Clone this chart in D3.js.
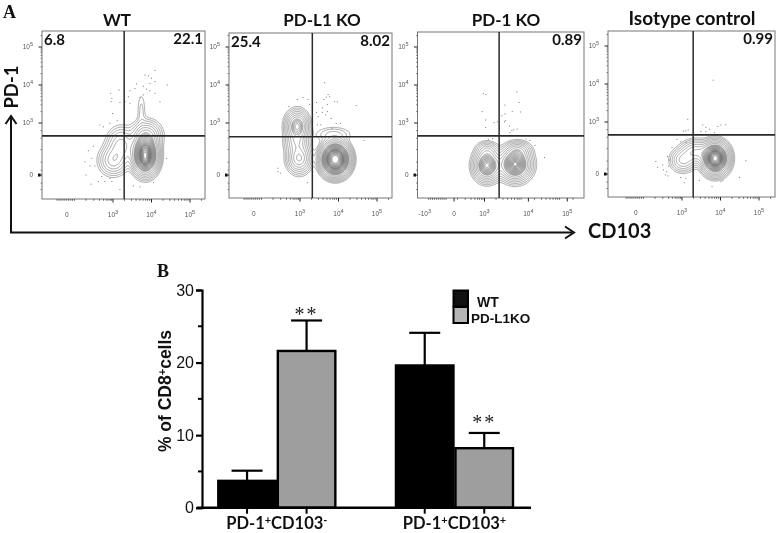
<!DOCTYPE html>
<html><head><meta charset="utf-8">
<script src="https://cdn.jsdelivr.net/npm/d3@7"></script>
<style>html,body{margin:0;background:#fff}svg{display:block;filter:blur(.4px)}</style>
</head><body><div id="c"></div>
<script>
// ---------- Panel A data (axis units: decades, 3 = 10^3) ----------
const panelNames = ["WT","PD-L1 KO","PD-1 KO","Isotype control"];
const q1Values = ["6.8","25.4","",""];
const q2Values = ["22.1","8.02","0.89","0.99"];
const yTickDecades = [5,4,3,1.63];
const yTickLabels = ["5","4","3","0"];
const xTickDecadesStd = [1.8,3,4,5];
const xTickLabelsStd = ["0","3","4","5"];
const xTickDecadesKO = [1.45,2.21,3,4.14,5.15];
const xTickLabelsKO = ["-3","0","3","4","5"];
// gate positions (decades) x, y
const gatesWT=[3.29,2.66], gatesL1=[3.32,2.64], gatesKO=[3.38,2.66], gatesIso=[3.29,2.66];
// density peaks: x, y, sx, sy, weight, sharpness
const peaksWT=[[3.83,2.16,.2,.3,1,1.3],[3.83,2.14,.07,.16,.35,1],[3.86,2.68,.2,.2,.3,1],[3.0,2.02,.19,.2,.24,1],[3.2,2.42,.19,.24,.24,1],[3.73,3.34,.07,.3,.04,1]];
const peaksL1=[[3.91,2.05,.25,.29,1,1.6],[3.91,2.05,.12,.14,.4,1],[2.92,2.92,.15,.2,.6,1],[2.97,2.08,.16,.2,.4,1],[2.9,2.5,.16,.16,.2,1],[3.86,2.7,.27,.12,.07,1]];
const peaksKO=[[3.79,1.92,.2,.21,1,1],[3.06,1.89,.17,.2,.85,1],[3.87,2.29,.17,.12,.2,1],[3.06,2.29,.15,.12,.15,1]];
const peaksIso=[[3.86,2.05,.21,.25,1,1.3],[3.86,2.05,.1,.12,.35,1],[3.02,2.0,.17,.16,.22,1],[3.35,2.22,.2,.16,.28,1]];
// outlier dots
const dotsWT=[[4.09,4.38],[3.83,4.26],[3.92,4.24],[4,4.18],[4.09,4.09],[3.96,4.04],[4.41,4],[3.79,3.97],[3.61,4.03],[3.57,3.91],[3.87,3.89],[3.96,3.85],[4.09,3.78],[3.79,3.74],[3.7,3.68],[3.44,3.85],[3.4,3.69],[2.94,3.78],[2.97,3.65],[2.95,3.56],[3.18,3.54],[3.16,3.87],[3.31,3.56],[3.44,3.52],[4.22,3.56],[2.99,3.25],[3.11,3.06],[2.66,2.95],[2.75,2.9],[2.92,2.99],[2.36,2.27],[2.49,2.39],[2.27,1.98],[2.45,2.07],[2.4,1.87],[2.53,1.87],[2.3,1.63],[2.43,1.39],[2.71,1.59],[2.62,1.46],[2.97,1.46],[3.18,1.25],[3.53,1.34],[3.7,1.32],[4.05,1.43],[4.39,2.07],[2.92,1.54],[2.79,1.46]];
const dotsL1=[[3.64,4.06],[3.73,3.75],[3.68,3.68],[3.77,3.69],[3.62,3.62],[3.43,3.54],[3.9,3.56],[3.97,3.56],[4.46,3.46],[3.71,3.49],[3.58,3.4],[3.58,3.28],[3.71,3.3],[3.67,3.21],[3.43,3.28],[3.47,3.17],[3.45,2.95],[3.54,2.95],[3.81,3.12],[3.94,2.99],[4.05,2.99],[3.83,2.86],[2.93,3.62],[3.08,3.67],[3.21,3.62],[2.71,3.43],[3.25,3.49],[4.66,2.54],[2.43,1.81],[2.5,1.68],[3.19,1.43],[2.43,1.72]];
const dotsKO=[[2.97,3.77],[3.04,3.75],[3.84,3.82],[3.9,3.54],[3.53,3.47],[2.94,3.3],[3.72,3.3],[3.94,3.29],[3.45,3.19],[3.53,3.24],[3.03,3.08],[3.25,3.01],[3.34,3.03],[3.55,3.06],[3.52,3.03],[3.65,2.92],[3.03,2.88],[3.39,2.86],[3.85,2.84],[3.76,2.82],[3.71,2.8],[3.66,2.75],[3.1,2.57],[3.21,2.59],[4.08,2.58],[4.18,2.54],[4.31,2.41],[4.56,2.09]];
const dotsIso=[[3.81,4.1],[3.15,3.07],[3.54,2.92],[4.14,2.93],[4.01,2.92],[3.93,2.88],[3.62,2.86],[3.71,2.81],[3.1,2.77],[3.04,2.76],[3.16,2.79],[3.49,2.75],[3.62,2.75],[3.84,2.72],[3.93,2.66],[2.87,2.54],[2.97,2.48],[3.1,2.46],[2.74,2.33],[2.63,2.09],[2.32,1.96],[2.37,1.81],[2.5,1.87],[2.52,1.74],[2.6,1.69],[2.63,1.58],[2.57,1.61],[2.67,2],[3.1,1.52],[3.06,1.4],[3.45,1.46],[4.01,1.43],[3.78,1.3],[4.49,1.54],[4.66,1.98],[4.06,1.46],[2.97,1.54],[2.65,1.84]];
// ---------- Panel B data ----------
const groups = ["PD-1+CD103-","PD-1+CD103+"];
const seriesNames = ["WT","PD-L1KO"];
const wtMeans=[3.7,19.6], koMeans=[21.6,8.2];
const wtErrTop=[5.1,24.1], koErrTop=[25.8,10.3];

const FONT="Lato, 'Open Sans', sans-serif", ARIAL="'Liberation Sans', Arial, sans-serif", SERIF="'Liberation Serif', serif";
const svg=d3.select("#c").append("svg").attr("width",778).attr("height",533);

// ---------- layout ----------
const layouts=[
 {l:42,r:205,t:31,b:199,x3:113,y3:123,gates:gatesWT,peaks:peaksWT,dots:dotsWT,xv:xTickDecadesStd,xl:xTickLabelsStd,tx:117,ty:26,fs:17},
 {l:229,r:392,t:33,b:198,x3:300,y3:123,gates:gatesL1,peaks:peaksL1,dots:dotsL1,xv:xTickDecadesStd,xl:xTickLabelsStd,tx:322,ty:26,fs:17},
 {l:417.5,r:584,t:32,b:198,x3:484.5,y3:123,gates:gatesKO,peaks:peaksKO,dots:dotsKO,xv:xTickDecadesKO,xl:xTickLabelsKO,tx:506,ty:26,fs:17},
 {l:608,r:775,t:31,b:197,x3:682,y3:122,gates:gatesIso,peaks:peaksIso,dots:dotsIso,xv:xTickDecadesStd,xl:xTickLabelsStd,tx:692,ty:25,fs:19}
];
// contour levels: evenly spaced radius in the tails, tight in the dense core
const thresholds=d3.range(2.8,1.4,-0.2).concat(d3.range(1.4,0.15,-0.085)).map(r=>Math.exp(-r*r/2)).concat([1.03,1.07,1.11,1.15,1.2,1.25,1.3]);
const yMinor=[1.25,1.42,1.76,1.97,2.3,2.6,2.8,3.3,3.48,3.6,3.7,3.78,3.85,3.9,3.95,4.3,4.48,4.6,4.7,4.78,4.85,4.9,4.95,5.3];
const xMinor=d3.range(1.55,2.05,.05).concat([2.3,2.5,2.65,2.75,2.82,2.87,2.92,2.96,3.3,3.48,3.6,3.7,3.78,3.85,3.9,3.95,4.3,4.48,4.6,4.7,4.78,4.85,4.9,4.95,5.3]);

function tenLabel(sel,exp){
  if(exp==="0"){sel.text("0");return;}
  const neg=exp[0]==="-";
  sel.append("tspan").text((neg?"-":"")+"10");
  sel.append("tspan").attr("dy",-3).attr("font-size",5.5).text(exp.replace("-",""));
}

layouts.forEach((p,i)=>{
  const x=d3.scaleLinear().domain([3,4]).range([p.x3,p.x3+38.5]);
  const y=d3.scaleLinear().domain([3,4]).range([p.y3,p.y3-38]);
  const g=svg.append("g");
  const W=Math.round((p.r-p.l)*2), H=Math.round((p.b-p.t)*2);
  const vals=new Float64Array(W*H);
  for(let r=0;r<H;r++)for(let c=0;c<W;c++){
    const xv=x.invert(p.l+c/2), yv=y.invert(p.t+r/2);
    let s=0;
    p.peaks.forEach(k=>{
      const q=(((xv-k[0])/k[2])**2+((yv-k[1])/k[3])**2)/2;
      s+=k[4]*Math.exp(-Math.pow(q,k[5]));
    });
    vals[r*W+c]=s;
  }
  const conts=d3.contours().size([W,H]).thresholds(thresholds)(vals);
  g.append("g").attr("transform",`translate(${p.l},${p.t}) scale(.5)`)
   .selectAll("path").data(conts).join("path")
   .attr("d",d3.geoPath()).attr("fill","none").attr("stroke","#666").attr("stroke-width",1.15);
  g.append("g").selectAll("rect").data(p.dots).join("rect")
   .attr("x",d=>x(d[0])-.5).attr("y",d=>y(d[1])-.5).attr("width",1).attr("height",1).attr("fill","#777");
  // frame
  g.append("rect").attr("x",p.l).attr("y",p.t).attr("width",p.r-p.l).attr("height",p.b-p.t)
   .attr("fill","none").attr("stroke","#777").attr("stroke-width",1);
  // gates
  g.append("line").attr("x1",x(p.gates[0])).attr("x2",x(p.gates[0])).attr("y1",p.t).attr("y2",p.b).attr("stroke","#2a2a2a").attr("stroke-width",1.5);
  g.append("line").attr("x1",p.l).attr("x2",p.r).attr("y1",y(p.gates[1])).attr("y2",y(p.gates[1])).attr("stroke","#2a2a2a").attr("stroke-width",1.6);
  // y ticks
  const ty=g.append("g");
  ty.selectAll("line.M").data(yTickDecades).join("line").attr("x1",p.l-3.5).attr("x2",p.l).attr("y1",d=>y(d)).attr("y2",d=>y(d)).attr("stroke","#222").attr("stroke-width",1);
  ty.selectAll("line.m").data(yMinor).join("line").attr("x1",p.l-1.5).attr("x2",p.l).attr("y1",d=>y(d)).attr("y2",d=>y(d)).attr("stroke","#555").attr("stroke-width",.7);
  ty.append("rect").attr("x",p.l-4).attr("y",y(1.63)-1.5).attr("width",2.5).attr("height",3).attr("fill","#111");
  ty.selectAll("text").data(yTickLabels).join("text")
    .attr("x",p.l-9).attr("y",(d,j)=>y(yTickDecades[j])+2).attr("text-anchor","end")
    .attr("font-family",ARIAL).attr("font-size",6.5).attr("fill","#555")
    .each(function(d){tenLabel(d3.select(this),d);});
  // x ticks
  const tx=g.append("g");
  tx.selectAll("line.M").data(p.xv.slice(1)).join("line").attr("y1",p.b).attr("y2",p.b+3.5).attr("x1",d=>x(d)).attr("x2",d=>x(d)).attr("stroke","#222").attr("stroke-width",1);
  tx.selectAll("line.m").data(xMinor.filter(d=>x(d)>p.l+4&&x(d)<p.r-2)).join("line").attr("y1",p.b).attr("y2",p.b+1.8).attr("x1",d=>x(d)).attr("x2",d=>x(d)).attr("stroke","#333").attr("stroke-width",.7);
  tx.selectAll("text").data(p.xl).join("text")
    .attr("x",(d,j)=>x(p.xv[j])).attr("y",p.b+18).attr("text-anchor","middle")
    .attr("font-family",ARIAL).attr("font-size",6.5).attr("fill","#555")
    .each(function(d){tenLabel(d3.select(this),d);});
  // title + quadrant values
  svg.append("text").attr("x",p.tx).attr("y",p.ty).attr("text-anchor","middle").attr("font-family",FONT).attr("font-weight",700).attr("font-size",p.fs).attr("fill","#111").text(panelNames[i]);
  if(q1Values[i]) svg.append("text").attr("x",p.l+2).attr("y",p.t+13.5).attr("font-family",FONT).attr("font-weight",700).attr("font-size",15).attr("fill","#111").text(q1Values[i]);
  svg.append("text").attr("x",p.r-2).attr("y",p.t+13).attr("text-anchor","end").attr("font-family",FONT).attr("font-weight",700).attr("font-size",15).attr("fill","#111").text(q2Values[i]);
});

// panel A big axes
const ax=svg.append("g").attr("stroke","#111").attr("fill","none").attr("stroke-width",2);
ax.append("path").attr("d","M11,232.5V116");
ax.append("path").attr("d","M5.5,124L11,116L16.5,124").attr("stroke-width",2);
ax.append("path").attr("d","M10,232.5H572");
ax.append("path").attr("d","M565,226.5L574,232.5L565,238.5");
svg.append("text").attr("transform","translate(18,87) rotate(-90)").attr("text-anchor","middle").attr("font-family",FONT).attr("font-weight",700).attr("font-size",18.5).attr("fill","#111").text("PD-1");
svg.append("text").attr("x",588).attr("y",238).attr("font-family",FONT).attr("font-weight",700).attr("font-size",20).attr("fill","#111").text("CD103");
svg.append("text").attr("x",3).attr("y",18).attr("font-family",SERIF).attr("font-weight",700).attr("font-size",18).attr("fill","#111").text("A");
svg.append("text").attr("x",157).attr("y",277).attr("font-family",SERIF).attr("font-weight",700).attr("font-size",18).attr("fill","#111").text("B");

// ---------- Panel B ----------
const yB=d3.scaleLinear().domain([0,30]).range([507.7,290]);
const xG=d3.scaleBand().domain(groups).range([217.3,514]).paddingInner(.33);
const xS=d3.scaleBand().domain(seriesNames).range([0,xG.bandwidth()]);
const colors=d3.scaleOrdinal().domain(seriesNames).range(["#000","#9e9e9e"]);
const rows=[];
groups.forEach((g,i)=>{
  rows.push({g,s:seriesNames[0],v:wtMeans[i],e:wtErrTop[i]});
  rows.push({g,s:seriesNames[1],v:koMeans[i],e:koErrTop[i]});
});
const B=svg.append("g");
const cx=d=>xG(d.g)+xS(d.s)+xS.bandwidth()/2;
B.selectAll("line.err").data(rows).join("line").attr("class","err").attr("x1",cx).attr("x2",cx).attr("y1",d=>yB(d.v)).attr("y2",d=>yB(d.e)).attr("stroke","#000").attr("stroke-width",2.2);
B.selectAll("line.cap").data(rows).join("line").attr("class","cap").attr("x1",d=>cx(d)-15.5).attr("x2",d=>cx(d)+15.5).attr("y1",d=>yB(d.e)).attr("y2",d=>yB(d.e)).attr("stroke","#000").attr("stroke-width",2.2);
B.selectAll("rect.bar").data(rows).join("rect").attr("class","bar")
 .attr("x",d=>xG(d.g)+xS(d.s)+1).attr("width",xS.bandwidth()-2)
 .attr("y",d=>yB(d.v)).attr("height",d=>yB(0)-yB(d.v))
 .attr("fill",d=>colors(d.s)).attr("stroke","#000").attr("stroke-width",2.4);
// y axis
const axY=B.append("g").attr("transform","translate(202,0)")
 .call(d3.axisLeft(yB).tickValues([0,10,20,30]).tickSize(6).tickPadding(2).tickFormat(d3.format("d")));
axY.selectAll("path,line").attr("stroke","#000").attr("stroke-width",2.2);
axY.selectAll("text").attr("font-family",ARIAL).attr("font-size",16).attr("fill","#111");
axY.selectAll(".minor").data([5,15,25]).join("line").attr("class","minor").attr("x1",-4).attr("x2",0).attr("y1",d=>yB(d)).attr("y2",d=>yB(d)).attr("stroke","#000").attr("stroke-width",2);
B.append("line").attr("x1",197).attr("x2",531).attr("y1",yB(0)).attr("y2",yB(0)).attr("stroke","#000").attr("stroke-width",2.4);
B.selectAll("line.xt").data(rows).join("line").attr("class","xt").attr("x1",cx).attr("x2",cx).attr("y1",yB(0)).attr("y2",yB(0)+6).attr("stroke","#000").attr("stroke-width",2);
// category labels
groups.forEach(g=>{
  const t=B.append("text").attr("x",xG(g)+xG.bandwidth()/2).attr("y",529).attr("text-anchor","middle").attr("font-family",FONT).attr("font-weight",700).attr("font-size",16.5).attr("fill","#111");
  t.append("tspan").text("PD-1");
  t.append("tspan").attr("dy",-5).attr("font-size",11).text("+");
  t.append("tspan").attr("dy",5).text("CD103");
  t.append("tspan").attr("dy",-5).attr("font-size",11).text(g.slice(-1));
});
// y title
const yt=svg.append("text").attr("transform","translate(171,391) rotate(-90)").attr("text-anchor","middle").attr("font-family",ARIAL).attr("font-weight",700).attr("font-size",17.5).attr("fill","#111");
yt.append("tspan").text("% of CD8");
yt.append("tspan").attr("dy",-5).attr("font-size",11).text("+");
yt.append("tspan").attr("dy",5).text("cells");
// significance
[rows[1],rows[3]].forEach((d,i)=>{
  svg.append("text").attr("x",cx(d)).attr("y",yB(d.e)+[1,-3.5][i]).attr("text-anchor","middle").attr("font-family",SERIF).attr("font-size",20).attr("letter-spacing",2).attr("fill","#222").text("**");
});
// legend
const leg=svg.append("g");
seriesNames.forEach((s,i)=>{
  leg.append("rect").attr("x",453.5).attr("y",290.5+i*16.5).attr("width",14.5).attr("height",16).attr("fill",i?"#b5b5b5":"#111").attr("stroke","#000").attr("stroke-width",2);
});
leg.append("text").attr("x",477).attr("y",307).attr("font-family",ARIAL).attr("font-weight",700).attr("font-size",14).attr("fill","#111").text(seriesNames[0]);
leg.append("text").attr("x",471).attr("y",323).attr("font-family",ARIAL).attr("font-weight",700).attr("font-size",13.5).attr("fill","#111").text(seriesNames[1]);
</script></body></html>
